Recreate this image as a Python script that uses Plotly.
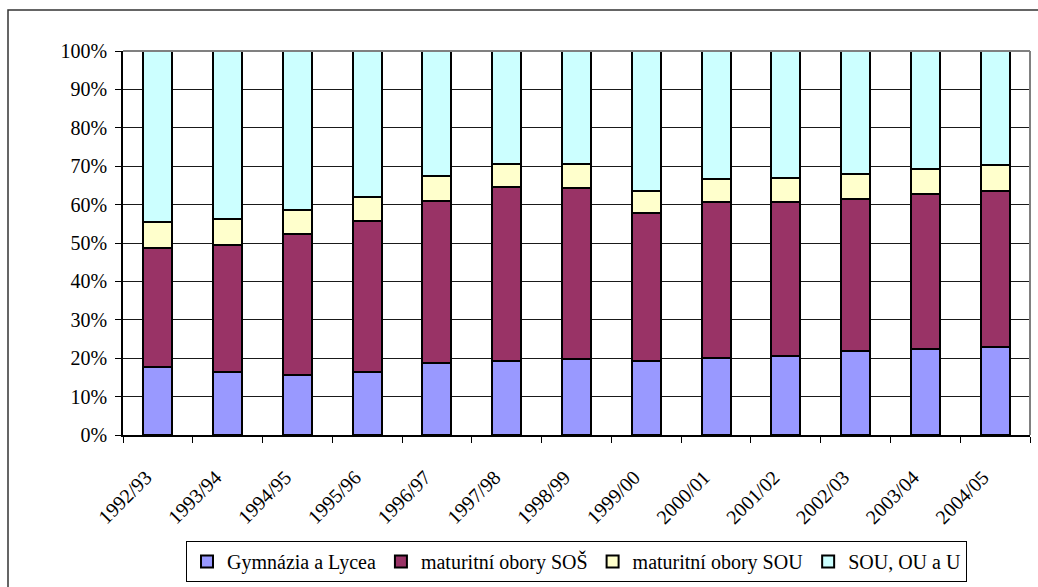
import plotly.graph_objects as go

# School years (categories)
years = ["1992/93", "1993/94", "1994/95", "1995/96", "1996/97", "1997/98", "1998/99",
         "1999/00", "2000/01", "2001/02", "2002/03", "2003/04", "2004/05"]

# Share of pupils by type of school (%)
gymnazia = [17.8, 16.3, 15.6, 16.3, 18.7, 19.3, 19.8, 19.3, 20.0, 20.7, 22.0, 22.4, 23.0]
maturitni_sos = [31.0, 33.2, 36.7, 39.5, 42.3, 45.4, 44.4, 38.6, 40.8, 39.9, 39.5, 40.4, 40.5]
maturitni_sou = [6.6, 6.7, 6.3, 6.3, 6.4, 5.9, 6.4, 5.7, 5.8, 6.2, 6.4, 6.4, 6.8]
sou_ou_u = [44.6, 43.8, 41.4, 37.9, 32.6, 29.4, 29.4, 36.4, 33.4, 33.2, 32.1, 30.8, 29.7]

y_ticks = list(range(0, 101, 10))
y_tick_labels = [f"{v}%" for v in y_ticks]

series = [
    ("Gymnázia a Lycea", gymnazia, "#9999FF"),
    ("maturitní obory SOŠ", maturitni_sos, "#993366"),
    ("maturitní obory SOU", maturitni_sou, "#FFFFCC"),
    ("SOU, OU a U", sou_ou_u, "#CCFFFF"),
]

FONT = "Liberation Serif"
FS = 20
W, H = 1038, 587
ML, MR, MT, MB = 123, 8, 51, 152
PW, PH = W - ML - MR, H - MT - MB


def px_x(px):
    return (px - ML) / PW


def px_y(py):
    return (H - MB - py) / PH


fig = go.Figure()
for name, vals, color in series:
    fig.add_trace(go.Bar(
        x=years, y=vals, name=name,
        marker=dict(color=color, line=dict(color="#000000", width=2)),
    ))

fig.update_layout(
    width=W, height=H,
    margin=dict(l=ML, r=MR, t=MT, b=MB, pad=0, autoexpand=False),
    barmode="stack",
    bargap=0.585,
    paper_bgcolor="white",
    plot_bgcolor="white",
    font=dict(family=FONT, size=FS, color="#000000"),
    showlegend=True,
    legend=dict(
        orientation="h",
        x=0.5, xanchor="center",
        y=px_y(541), yanchor="top",
        traceorder="normal",
        bordercolor="#000000", borderwidth=1,
        bgcolor="white",
        font=dict(family=FONT, size=FS, color="#000000"),
        itemwidth=30,
    ),
    xaxis=dict(
        type="category",
        tickangle=-45,
        ticks="outside", ticklen=6, tickcolor="#000000", tickwidth=1,
        tickson="boundaries",
        showline=True, linecolor="#000000", linewidth=1.5,
        showgrid=False,
        automargin=False,
        ticklabelstandoff=21,
        ticklabelshift=-12,
        tickfont=dict(family=FONT, size=FS, color="#000000"),
    ),
    yaxis=dict(
        range=[0, 100],
        tickvals=y_ticks, ticktext=y_tick_labels,
        ticks="outside", ticklen=6, tickcolor="#000000", tickwidth=1,
        showline=True, linecolor="#000000", linewidth=1.5,
        showgrid=True, gridcolor="#1a1a1a", gridwidth=1,
        zeroline=False,
        automargin=False,
        ticklabelstandoff=4,
        tickfont=dict(family=FONT, size=FS, color="#000000"),
    ),
    shapes=[
        # plot area border (top and right)
        dict(type="line", xref="paper", yref="paper", x0=0, x1=1, y0=1, y1=1,
             line=dict(color="#808080", width=2)),
        dict(type="line", xref="paper", yref="paper", x0=1, x1=1, y0=0, y1=1,
             line=dict(color="#808080", width=2)),
        # chart frame
        dict(type="rect", xref="paper", yref="paper",
             x0=px_x(8), x1=px_x(1045), y0=px_y(595), y1=px_y(10),
             line=dict(color="#333333", width=1.5), layer="below"),
    ],
)

fig.write_html("out.html")
